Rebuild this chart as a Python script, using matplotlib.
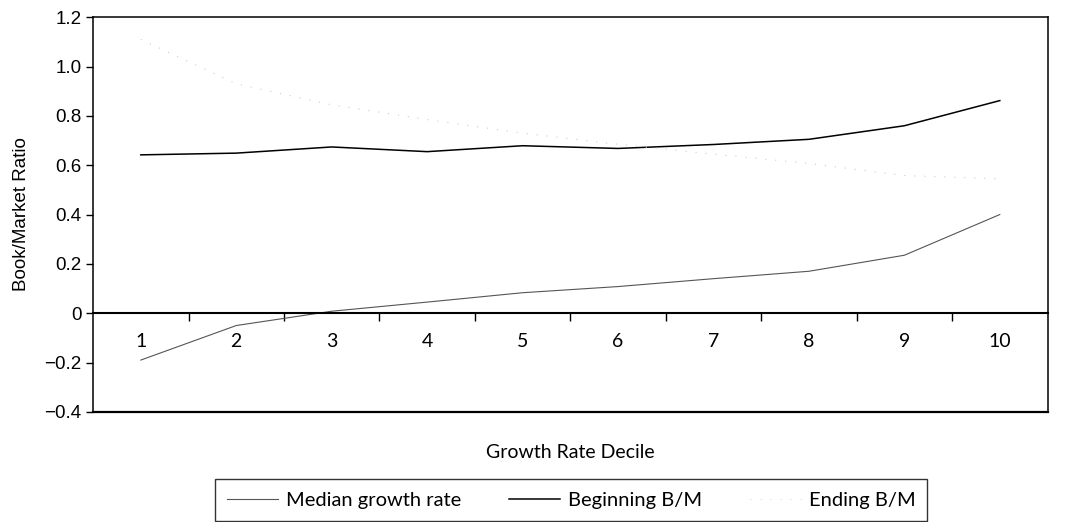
import matplotlib.pyplot as plt
from matplotlib.lines import Line2D

# growth rate deciles and the three series
deciles = [1, 2, 3, 4, 5, 6, 7, 8, 9, 10]
median_growth = [-0.19, -0.05, 0.008, 0.045, 0.083, 0.108, 0.14, 0.17, 0.235, 0.40]
beginning_bm = [0.642, 0.649, 0.674, 0.655, 0.679, 0.668, 0.684, 0.705, 0.760, 0.862]
ending_bm = [1.11, 0.93, 0.845, 0.785, 0.73, 0.685, 0.645, 0.607, 0.558, 0.545]
y_ticks = [-0.4, -0.2, 0, 0.2, 0.4, 0.6, 0.8, 1.0, 1.2]
y_labels = ["\u22120.4", "\u22120.2", "0", "0.2", "0.4", "0.6", "0.8", "1.0", "1.2"]

plt.rcParams['font.family'] = ['Lato', 'DejaVu Sans']

fig = plt.figure(figsize=(10.7, 5.22), dpi=100)
ax = fig.add_axes([0.087, 0.211, 0.892, 0.756])

ax.plot(deciles, median_growth, color='#555555', lw=0.8)
ax.plot(deciles, beginning_bm, color='black', lw=1.1)
ax.plot(deciles, ending_bm, color='#cccccc', lw=0.8, linestyle=(0, (1, 8)))

ax.set_xlim(0.5, 10.5)
ax.set_ylim(-0.4, 1.2)

# x axis sits on the zero line, frame kept all round
ax.spines['bottom'].set_position(('data', 0))
ax.spines['bottom'].set_linewidth(1.5)
for s in ['left', 'top', 'right']:
    ax.spines[s].set_linewidth(1.1)
ax.plot([0, 1], [0, 0], transform=ax.transAxes, color='black', lw=1.6, clip_on=False)

ax.set_xticks(deciles)
ax.set_xticklabels([str(d) for d in deciles], fontsize=14)
ax.set_xticks([d + 0.5 for d in deciles[:-1]], minor=True)
ax.tick_params(axis='x', which='major', length=0, pad=14)
ax.tick_params(axis='x', which='minor', length=6, direction='out', width=1)

ax.set_yticks(y_ticks)
ax.set_yticklabels(y_labels, fontsize=13.5, family=['Liberation Sans', 'DejaVu Sans'])
ax.tick_params(axis='y', length=5, direction='out', width=1)

ax.set_ylabel("Book/Market Ratio", fontsize=13.5, family=['Liberation Sans', 'DejaVu Sans'], labelpad=10)
fig.text(0.533, 0.134, "Growth Rate Decile", ha='center', va='center', fontsize=14)

handles = [
    Line2D([], [], color='#555555', lw=0.8),
    Line2D([], [], color='black', lw=1.1),
    Line2D([], [], color='#dddddd', lw=0.8, linestyle=(0, (1, 8))),
]
leg = fig.legend(handles, ["Median growth rate", "Beginning B/M", "Ending B/M"],
                 loc='center', bbox_to_anchor=(0.534, 0.042), ncol=3, fontsize=14.5,
                 frameon=True, fancybox=False, edgecolor='black', handlelength=2.5,
                 columnspacing=2.4, borderpad=0.6, handletextpad=0.4)
leg.get_frame().set_linewidth(1.0)

fig.savefig("out.png", dpi=100)
